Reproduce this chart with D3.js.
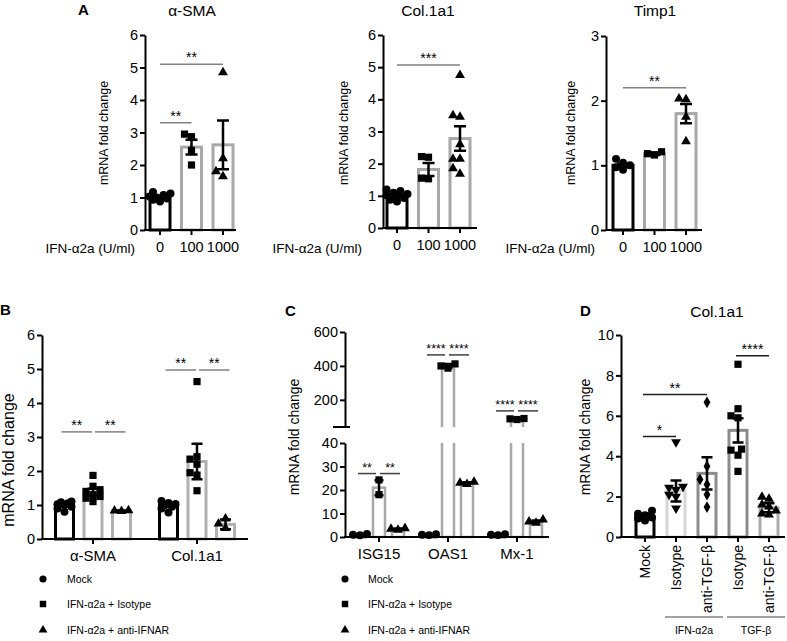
<!DOCTYPE html>
<html><head><meta charset="utf-8">
<script src="https://cdn.jsdelivr.net/npm/d3@7"></script>
<style>body{margin:0;background:#fff}</style>
</head><body><script>
// ================= DATA =================
const doseLabels = ["0", "100", "1000"];
// Panel A – α-SMA
const aSMA_points = [[0.88,0.93,0.97,1.0,1.03,1.08,1.12,1.17],[2.87,2.95,2.45,2.0],[4.85,2.2,1.65,1.8]];
const aSMA_mean = [1.0, 2.55, 2.62];
const aSMA_sem  = [0.05, 0.23, 0.75];
const aSMA_sig  = [[0,2,5.1,"**"],[0,1,3.3,"**"]];
// Panel A – Col.1a1
const aCol_points = [[0.82,0.88,0.93,0.98,1.02,1.06,1.1,1.15,1.2],[2.2,2.22,1.55,1.53],[4.75,3.5,3.45,2.6,2.15,2.15,1.85,1.68]];
const aCol_mean = [1.0, 1.82, 2.78];
const aCol_sem  = [0.05, 0.2, 0.38];
const aCol_sig  = [[0,2,5.07,"***"]];
// Panel A – Timp1
const aTimp_points = [[0.93,0.97,1.0,1.04,1.1],[1.16,1.18,1.21],[2.02,2.03,1.75,1.37]];
const aTimp_mean = [1.0, 1.18, 1.8];
const aTimp_sem  = [0.03, 0.02, 0.15];
const aTimp_sig  = [[0,2,2.2,"**"]];

// Panel B
const bGenes = ["α-SMA", "Col.1a1"];
const treatLabels = ["Mock", "IFN-α2a + Isotype", "IFN-α2a + anti-IFNAR"];
const bSMA_points = [[0.8,0.9,0.95,1.0,1.02,1.05,1.08,1.1],[1.87,1.55,1.45,1.4,1.3,1.2,1.1,1.25],[0.82,0.84,0.83]];
const bSMA_mean = [1.0, 1.38, 0.83];
const bSMA_sem  = [0.04, 0.1, 0.01];
const bCol_points = [[0.78,0.9,0.95,1.0,1.03,1.06,1.12],[4.63,2.42,2.35,2.2,1.95,1.88,1.42],[0.6,0.45,0.32]];
const bCol_mean = [1.0, 2.28, 0.43];
const bCol_sem  = [0.05, 0.52, 0.14];
const bSMA_sig = [[0,1,3.15,"**"],[1,2,3.15,"**"]];
const bCol_sig = [[0,1,4.97,"**"],[1,2,4.97,"**"]];

// Panel C
const cGenes = ["ISG15", "OAS1", "Mx-1"];
const cISG_points = [[0.7,1.0,1.3],[24.3,18.0],[3.0,3.4,3.7]];
const cISG_mean = [1.0, 21, 3.4];
const cISG_sem  = [0.15, 3.2, 0.2];
const cOAS_points = [[0.8,1.0,1.2],[387,400,412],[22.5,23,23.4]];
const cOAS_mean = [1.0, 400, 23];
const cOAS_sem  = [0.1, 12, 0.3];
const cMx_points = [[0.8,1.0,1.2],[84,88,90],[6.0,6.5,7.4]];
const cMx_mean = [1.0, 88, 6.6];
const cMx_sem  = [0.1, 2, 0.4];
const cISG_sig = [[0,1,27,"**"],[1,2,27,"**"]];
const cOAS_sig = [[0,1,465,"****"],[1,2,465,"****"]];
const cMx_sig  = [[0,1,135,"****"],[1,2,135,"****"]];
const cLowTicks = [0,10,20,30,40];
const cHighTicks = [200,400,600];

// Panel D
const dLabels = ["Mock", "Isotype", "anti-TGF-β", "Isotype", "anti-TGF-β"];
const dGroupLabels = ["IFN-α2a", "TGF-β"];
const d_points = [[0.82,0.92,0.97,1.0,1.03,1.08,1.15,1.3],[4.7,2.5,2.45,2.35,2.1,2.0,1.42],[6.67,3.5,2.85,2.6,2.1,1.48],[8.55,6.35,6.0,5.9,4.35,4.3,4.05,3.25],[1.98,1.88,1.6,1.5,1.3,1.15,1.1]];
const d_mean = [1.0, 2.28, 3.15, 5.28, 1.45];
const d_sem  = [0.06, 0.52, 0.8, 0.6, 0.22];
const d_sig  = [[0,1,4.97,"*"],[0,2,7.05,"**"],[3,4,8.97,"****"]];

// ================= DRAWING =================
const FONT = '"Liberation Sans", Arial, Helvetica, sans-serif';
const svg = d3.select("body").append("svg").attr("width",787).attr("height",641)
  .style("font-family", FONT);

const symDefs = {
  circle:[d3.symbolCircle,50], square:[d3.symbolSquare,52], triangle:[d3.symbolTriangle,42],
  tdown:[d3.symbolTriangle,42], diamond:[d3.symbolDiamond,40]
};
function symPath(shape, k){ const s=symDefs[shape]; return d3.symbol().type(s[0]).size(s[1]*(k||1))(); }

function dodge(vals, yfn, r, maxOff){
  const order = vals.map((v,i)=>i).sort((a,b)=>vals[a]-vals[b]);
  const placed=[], offs=new Array(vals.length);
  const cands=[0,-1,1,-2,2,-3,3,-4,4].map(k=>k*3.5).filter(c=>Math.abs(c)<=maxOff);
  for(const i of order){
    const y=yfn(vals[i]);
    let best=null, bestD=-1;
    for(const c of cands){
      const d=placed.length?Math.min(...placed.map(p=>Math.hypot(p.x-c,p.y-y))):1e9;
      if(d>=r){best=c;break;}
      if(d>bestD){bestD=d;best=c;}
    }
    offs[i]=best; placed.push({x:best,y});
  }
  return offs;
}

function drawItem(g, o){
  const {cx,bw,yfn,y0,mean,sem,pts,color,shape} = o;
  const sw=o.sw||3, l=cx-bw/2, r=cx+bw/2;
  if(o.broken && mean>o.broken.at){
    const b=o.broken;
    g.append("path").attr("d",`M${l},${y0}V${b.lowTop}M${r},${y0}V${b.lowTop}M${l},${y0}H${r}`)
      .attr("fill","none").attr("stroke",color).attr("stroke-width",sw);
    g.append("path").attr("d",`M${l},${b.highBot}V${yfn(mean)}H${r}V${b.highBot}`)
      .attr("fill","none").attr("stroke",color).attr("stroke-width",sw);
  } else {
    g.append("rect").attr("x",l).attr("y",yfn(mean)).attr("width",bw).attr("height",y0-yfn(mean))
      .attr("fill","#fff").attr("stroke",color).attr("stroke-width",sw);
  }
  const offs=dodge(pts,yfn,6.5,bw/2+1);
  pts.forEach((v,i)=>{
    g.append("path").attr("d",symPath(shape))
      .attr("transform",`translate(${cx+offs[i]},${yfn(v)})${shape==="tdown"?" rotate(180)":""}`)
      .attr("fill","#000");
  });
  const yt=yfn(mean+sem), yb=yfn(Math.max(0,mean-sem)), cw=o.cap||10;
  g.append("path").attr("d",`M${cx},${yt}V${yb}M${cx-cw/2},${yt}H${cx+cw/2}M${cx-cw/2},${yb}H${cx+cw/2}`)
    .attr("fill","none").attr("stroke","#000").attr("stroke-width",2.5);
}

function drawSig(g,x1,x2,y,label,color,fs){
  g.append("line").attr("x1",x1).attr("x2",x2).attr("y1",y).attr("y2",y)
    .attr("stroke",color).attr("stroke-width",1.5);
  g.append("text").attr("x",(x1+x2)/2).attr("y",y-2).attr("text-anchor","middle")
    .attr("font-size",fs||14).attr("fill","#000").text(label);
}

function yAxis(g,x,scale,ticks,fs){
  const ax=g.append("g").attr("transform",`translate(${x},0)`)
    .call(d3.axisLeft(scale).tickValues(ticks).tickSize(5).tickSizeOuter(0).tickPadding(2).tickFormat(d3.format("d")));
  ax.select(".domain").attr("stroke-width",2).attr("stroke","#000");
  ax.selectAll(".tick line").attr("stroke-width",2).attr("stroke","#000");
  ax.selectAll("text").attr("font-size",fs||14).attr("font-family",FONT).attr("fill","#000");
  return ax;
}
function xAxis(g,x0,x1,y,centers,labels,fs,showLabels){
  g.append("line").attr("x1",x0-1).attr("x2",x1).attr("y1",y).attr("y2",y).attr("stroke","#000").attr("stroke-width",2);
  centers.forEach((c,i)=>{
    g.append("line").attr("x1",c).attr("x2",c).attr("y1",y).attr("y2",y+5).attr("stroke","#000").attr("stroke-width",2);
    if(showLabels!==false)
      g.append("text").attr("x",c).attr("y",y+22).attr("text-anchor","middle").attr("font-size",fs||14).text(labels[i]);
  });
}
function yLabel(g,x,y,fs){
  g.append("text").attr("transform",`translate(${x},${y}) rotate(-90)`).attr("text-anchor","middle")
    .attr("font-size",fs).text("mRNA fold change");
}

// ---------- Panel A ----------
svg.append("text").attr("x",78).attr("y",15).attr("font-weight","bold").attr("font-size",15).text("A");
const aSpecs = [
  {title:"α-SMA", tx:192, ax:145, end:236, yr:[230,35], dom:[0,6], ticks:[0,1,2,3,4,5,6], cr:[160,223], ylx:108, lblEnd:135,
   pts:aSMA_points, mean:aSMA_mean, sem:aSMA_sem, sig:aSMA_sig},
  {title:"Col.1a1", tx:428, ax:383, end:477, yr:[228,35], dom:[0,6], ticks:[0,1,2,3,4,5,6], cr:[397,460], ylx:348, lblEnd:362,
   pts:aCol_points, mean:aCol_mean, sem:aCol_sem, sig:aCol_sig},
  {title:"Timp1", tx:655, ax:606, end:702, yr:[230,36], dom:[0,3], ticks:[0,1,2,3], cr:[623,686], ylx:575, lblEnd:595,
   pts:aTimp_points, mean:aTimp_mean, sem:aTimp_sem, sig:aTimp_sig}
];
const aShapes=["circle","square","triangle"], aColors=["#000","#a8a8a8","#a8a8a8"];
aSpecs.forEach(s=>{
  const g=svg.append("g");
  const y=d3.scaleLinear().domain(s.dom).range(s.yr);
  const x=d3.scalePoint().domain(doseLabels).range(s.cr);
  g.append("text").attr("x",s.tx).attr("y",16).attr("text-anchor","middle").attr("font-size",15.5).text(s.title);
  yLabel(g,s.ylx,133,12.5);
  doseLabels.forEach((d,i)=>drawItem(g,{cx:x(d),bw:20,yfn:y,y0:y(0),mean:s.mean[i],sem:s.sem[i],pts:s.pts[i],color:aColors[i],shape:aShapes[i],sw:3,cap:12}));
  yAxis(g,s.ax,y,s.ticks,14.5);
  xAxis(g,s.ax,s.end,y(0),doseLabels.map(d=>x(d)),doseLabels,14.5);
  g.append("text").attr("x",s.lblEnd).attr("y",253).attr("text-anchor","end").attr("font-size",13.5).text("IFN-α2a (U/ml)");
  s.sig.forEach(([i,j,v,lab])=>drawSig(g,x(doseLabels[i]),x(doseLabels[j]),y(v),lab,"#808080"));
});

// ---------- Panel B ----------
{
  const g=svg.append("g");
  g.append("text").attr("x",0).attr("y",315).attr("font-weight","bold").attr("font-size",15).text("B");
  const y=d3.scaleLinear().domain([0,6]).range([539,335]);
  const xg=d3.scalePoint().domain(bGenes).range([93,197]);
  const xt=d3.scalePoint().domain(treatLabels).range([-28.5,28.5]);
  const colors=["#000","#b0b0b0","#b0b0b0"], shapes=["circle","square","triangle"];
  yLabel(g,14,460,16);
  const sets=[[bSMA_points,bSMA_mean,bSMA_sem,bSMA_sig],[bCol_points,bCol_mean,bCol_sem,bCol_sig]];
  bGenes.forEach((gene,gi)=>{
    const [P,M,S,SG]=sets[gi];
    treatLabels.forEach((t,ti)=>drawItem(g,{cx:xg(gene)+xt(t),bw:18,yfn:y,y0:y(0),mean:M[ti],sem:S[ti],pts:P[ti],color:colors[ti],shape:shapes[ti],sw:3,cap:11}));
    SG.forEach(([i,j,v,lab],k)=>{
      const a=xg(gene)+xt(treatLabels[i]), b=xg(gene)+xt(treatLabels[j]);
      drawSig(g,a+(k===0?-3:2),b+(k===0?-1:4),y(v),lab,"#808080");
    });
  });
  yAxis(g,42,y,[0,1,2,3,4,5,6],14.5);
  xAxis(g,42,248,y(0),bGenes.map(d=>xg(d)),bGenes,15);
  const ly=[579,604,630];
  treatLabels.forEach((t,i)=>{
    g.append("path").attr("d",symPath(shapes[i],0.8)).attr("transform",`translate(43,${ly[i]})`).attr("fill","#000");
    g.append("text").attr("x",67).attr("y",ly[i]+4).attr("font-size",10.5).text(t);
  });
}

// ---------- Panel C ----------
{
  const g=svg.append("g");
  g.append("text").attr("x",285).attr("y",316).attr("font-weight","bold").attr("font-size",15).text("C");
  const yLow=d3.scaleLinear().domain([0,40]).range([537,443]);
  const yHigh=d3.scaleLinear().domain([40,600]).range([427,332]);
  const yf=v=>v<=40?yLow(v):yHigh(v);
  const xg=d3.scalePoint().domain(cGenes).range([379,517]);
  const xt=d3.scalePoint().domain(treatLabels).range([-19,19]);
  const colors=["#000","#a8a8a8","#a8a8a8"], shapes=["circle","square","triangle"];
  yLabel(g,299,437,14);
  const sets=[[cISG_points,cISG_mean,cISG_sem,cISG_sig],[cOAS_points,cOAS_mean,cOAS_sem,cOAS_sig],[cMx_points,cMx_mean,cMx_sem,cMx_sig]];
  cGenes.forEach((gene,gi)=>{
    const [P,M,S,SG]=sets[gi];
    treatLabels.forEach((t,ti)=>drawItem(g,{cx:xg(gene)+xt(t),bw:12,yfn:yf,y0:yLow(0),mean:M[ti],sem:S[ti],pts:P[ti],color:colors[ti],shape:shapes[ti],sw:2.5,cap:9,
      broken:{at:40,lowTop:yLow(40),highBot:yHigh(40)}}));
    SG.forEach(([i,j,v,lab],k)=>{
      const a=xg(gene)+xt(treatLabels[i]), b=xg(gene)+xt(treatLabels[j]);
      drawSig(g,a+(k===0?-2:1),b+(k===0?-3:2),yf(v),lab,"#404040",12.5);
    });
  });
  yAxis(g,345,yLow,cLowTicks,14.5);
  yAxis(g,345,yHigh,cHighTicks,14.5);
  g.append("line").attr("x1",333).attr("x2",350).attr("y1",yHigh(40)).attr("y2",yHigh(40)).attr("stroke","#000").attr("stroke-width",2);
  xAxis(g,345,549,yLow(0),cGenes.map(d=>xg(d)),cGenes,15);
  const ly=[579,604,630];
  treatLabels.forEach((t,i)=>{
    g.append("path").attr("d",symPath(shapes[i],0.8)).attr("transform",`translate(345,${ly[i]})`).attr("fill","#000");
    g.append("text").attr("x",368).attr("y",ly[i]+4).attr("font-size",10.5).text(t);
  });
}

// ---------- Panel D ----------
{
  const g=svg.append("g");
  g.append("text").attr("x",580).attr("y",316).attr("font-weight","bold").attr("font-size",15).text("D");
  g.append("text").attr("x",717).attr("y",317).attr("text-anchor","middle").attr("font-size",15.5).text("Col.1a1");
  const y=d3.scaleLinear().domain([0,10]).range([537,335]);
  const idx=d3.range(dLabels.length);
  const x=d3.scalePoint().domain(idx).range([645,769]);
  const colors=["#000","#d6d6d6","#8c8c8c","#8c8c8c","#acacac"], shapes=["circle","tdown","diamond","square","triangle"];
  yLabel(g,590,437,14);
  idx.forEach(i=>drawItem(g,{cx:x(i),bw:18,yfn:y,y0:y(0),mean:d_mean[i],sem:d_sem[i],pts:d_points[i],color:colors[i],shape:shapes[i],sw:3,cap:11}));
  d_sig.forEach(([i,j,v,lab])=>drawSig(g,x(i)-2,x(j),y(v),lab,"#202020"));
  yAxis(g,621,y,[0,2,4,6,8,10],14.5);
  xAxis(g,621,785,y(0),idx.map(i=>x(i)),dLabels,14,false);
  idx.forEach(i=>{
    g.append("text").attr("transform",`translate(${x(i)+5},545) rotate(-90)`).attr("text-anchor","end")
      .attr("font-size",14).text(dLabels[i]);
  });
  const groups=[[1,2],[3,4]];
  groups.forEach(([a,b],k)=>{
    const x1=x(a)-11, x2=x(b)+16;
    g.append("line").attr("x1",x1).attr("x2",x2).attr("y1",617).attr("y2",617).attr("stroke","#444").attr("stroke-width",1);
    g.append("text").attr("x",(x1+x2)/2).attr("y",634).attr("text-anchor","middle").attr("font-size",10.5).text(dGroupLabels[k]);
  });
}
</script></body></html>
